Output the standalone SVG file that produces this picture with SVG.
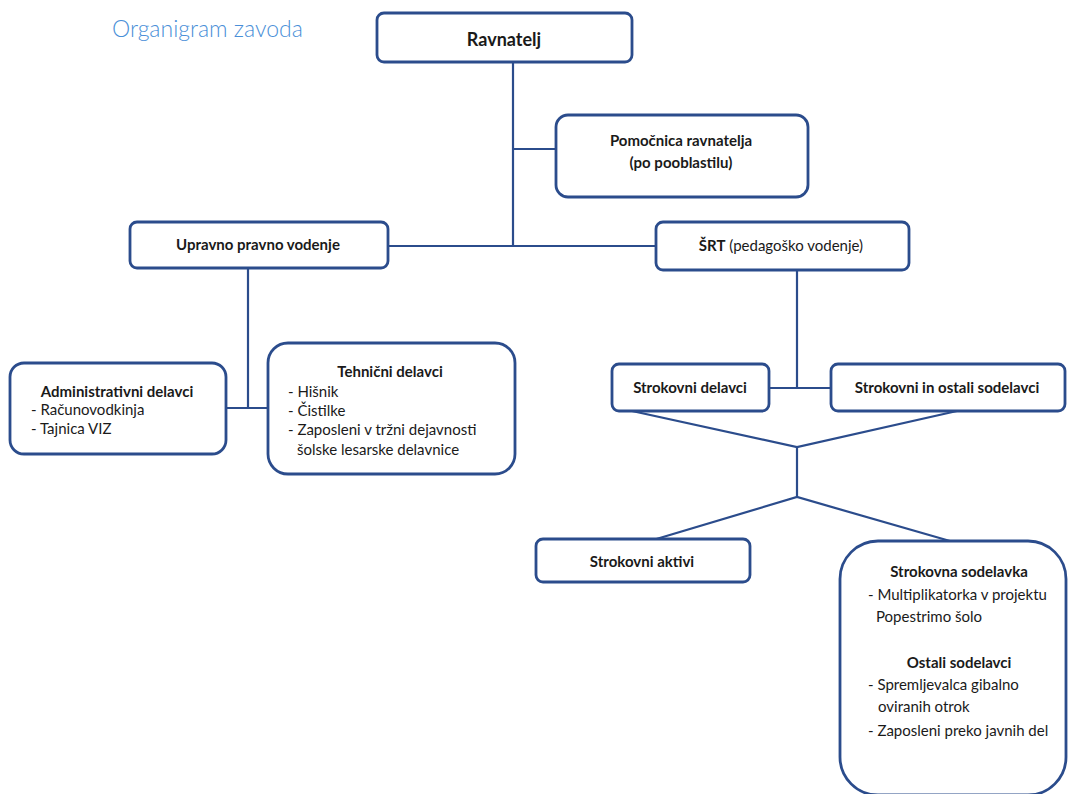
<svg xmlns="http://www.w3.org/2000/svg" width="1068" height="794" viewBox="0 0 1068 794">
<style>
.box{fill:#fff;stroke:#2b4c8c;stroke-width:2.8}
.ln{fill:none;stroke:#2b4c8c;stroke-width:2.2}
text{font-family:Lato,"Open Sans","Liberation Sans",sans-serif;font-size:15px;fill:#1a1a1a}
.b{font-weight:bold}
.c{text-anchor:middle}
.title{font-size:23px;fill:#4a8fd8;font-weight:300}
</style>
<rect width="1068" height="794" fill="#fff"/>
<text class="title" x="112" y="37">Organigram zavoda</text>
<g id="connectors">
<path class="ln" d="M513 62 V246"/>
<path class="ln" d="M513 149 H556"/>
<path class="ln" d="M388 246 H656"/>
<path class="ln" d="M248 268 V408"/>
<path class="ln" d="M226 408 H268"/>
<path class="ln" d="M797 270 V388"/>
<path class="ln" d="M769 388 H831"/>
<path class="ln" d="M632 411 L797 447 L957 411"/>
<path class="ln" d="M797 447 V497"/>
<path class="ln" d="M653 540 L797 497 L950 541"/>
</g>
<g id="ravnatelj"><rect class="box" x="377" y="13" width="255" height="49" rx="7"/><text class="b c" x="504" y="46" style="font-size:18px">Ravnatelj</text></g>
<g id="pomocnica"><rect class="box" x="556" y="115" width="252" height="82" rx="12"/><text class="b c" x="681" y="146">Pomočnica ravnatelja</text><text class="b c" x="681" y="168">(po pooblastilu)</text></g>
<g id="upravno"><rect class="box" x="130" y="222" width="258" height="46" rx="7"/><text class="b c" x="258" y="250">Upravno pravno vodenje</text></g>
<g id="srt"><rect class="box" x="656" y="222" width="253" height="48" rx="7"/><text class="c" x="781" y="251"><tspan class="b">ŠRT</tspan> (pedagoško vodenje)</text></g>
<g id="administrativni"><rect class="box" x="10" y="363" width="216" height="91" rx="14"/><text class="b c" x="117" y="397">Administrativni delavci</text><text x="31" y="415">- Računovodkinja</text><text x="31" y="434">- Tajnica VIZ</text></g>
<g id="tehnicni"><rect class="box" x="268" y="343" width="247" height="131" rx="20"/><text class="b c" x="390" y="377">Tehnični delavci</text><text x="288" y="397">- Hišnik</text><text x="288" y="416">- Čistilke</text><text x="288" y="435">- Zaposleni v tržni dejavnosti</text><text x="297" y="455">šolske lesarske delavnice</text></g>
<g id="strokovni-delavci"><rect class="box" x="612" y="364" width="157" height="47" rx="7"/><text class="b c" x="690" y="393">Strokovni delavci</text></g>
<g id="strokovni-ostali"><rect class="box" x="831" y="364" width="234" height="47" rx="7"/><text class="b c" x="947" y="393">Strokovni in ostali sodelavci</text></g>
<g id="strokovni-aktivi"><rect class="box" x="536" y="539" width="214" height="43" rx="7"/><text class="b c" x="642" y="567">Strokovni aktivi</text></g>
<g id="sodelavci"><rect class="box" x="840" y="541" width="226" height="254" rx="38"/><text class="b c" x="959" y="577">Strokovna sodelavka</text><text x="868" y="600">- Multiplikatorka v projektu</text><text x="876" y="622">Popestrimo šolo</text><text class="b c" x="959" y="668">Ostali sodelavci</text><text x="868" y="690">- Spremljevalca gibalno</text><text x="878" y="712">oviranih otrok</text><text x="868" y="736">- Zaposleni preko javnih del</text></g>
</svg>
